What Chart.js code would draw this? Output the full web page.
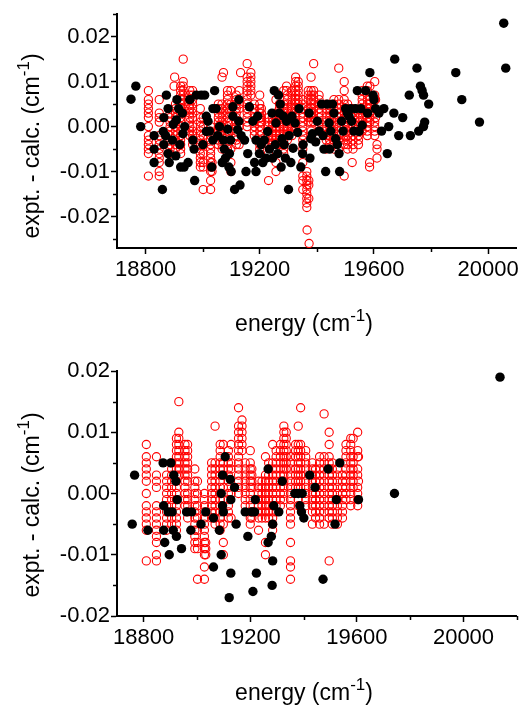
<!DOCTYPE html>
<html><head><meta charset="utf-8">
<script src="https://cdn.jsdelivr.net/npm/chart.js@4.4.0/dist/chart.umd.min.js"></script>
<style>
html,body{margin:0;padding:0;background:#fff;}
#wrap{position:relative;width:522px;height:709px;overflow:hidden;}
canvas{position:absolute;left:0;}
#c1{top:0;} #c2{top:350px;}
</style></head><body>
<div id="wrap"><canvas id="c1" width="522" height="350"></canvas><canvas id="c2" width="522" height="359"></canvas></div>
<script>
// ---------- DATA (energies in cm^-1, residuals in units of 10^-3 cm^-1) ----------
const xTicksTop = [18800,19000,19200,19400,19600,19800,20000];
const xTicksBottom = [18800,19000,19200,19400,19600,19800,20000,20200];
const xLabelValues = [18800,19200,19600,20000];
const yTicksTop = [-25,-20,-15,-10,-5,0,5,10,15,20,25];
const yTicksBottom = [-20,-15,-10,-5,0,5,10,15,20];
const yLabelValues = [-20,-10,0,10,20];

// Top panel, filled (black) points
const blackTopE = [18749,18766,18783,18830,18830,18830,18859,18862,18873,18879,18864,18864,18870,18879,18883,18894,18897,18908,18910,18916,18923,18929,18931,18937,18949,18955,18920,18906,18935,18972,18966,18978,18970,18995,19007,19001,19013,19019,19013,19024,19032,19036,19042,19036,19047,19059,19053,19069,19073,19076,19080,19088,19092,19094,19098,19100,19106,19106,19112,19127,19127,19131,19123,19135,19147,19152,19158,19164,19176,19182,19187,19187,19193,19199,19205,19211,19216,19222,19228,19234,19243,19245,19251,19255,19257,19263,19266,19269,19272,19275,19278,19283,19286,19290,19294,19301,19303,19309,19313,19317,19324,19333,19338,19344,19350,19352,19373,19376,19379,19385,19396,19402,19408,19417,19422,19425,19431,19437,19443,19445,19449,19455,19460,19466,19472,19478,19480,19487,19492,19501,19507,19513,19519,19522,19530,19536,19542,19548,19554,19559,19571,19578,19586,19597,19600,19606,19618,19627,19635,19647,19652,19670,19673,19687,19701,19724,19728,19751,19757,19763,19769,19774,19778,19774,19792,19887,19908,19970,20055,20062];
const blackTopV = [6.1,9,0,-2,-5,-8,-14,-1.1,7,4,2,-4,-2,-6,-8,-3,0.5,1.5,6,4,-9,3,-1.6,0,-8,6,-4,-6.5,-9,-12,-3,7,-5,7,7,-4,2.3,1.2,-1.1,-1,-9,-3,8,4,4,0,-2,-8,-3,-5,-7,-0.6,-9,-6,-3,-10,2.3,4.4,-14,6,1.2,-13,-0.7,-2,-3,-10,-6,4.4,1.2,-8,-10,-3,2.3,-6,-4,-8,-3,-7,-1.1,-5,3,-7,8,-4,0.8,-6,7,3,5,-9,-2.7,2.3,-4,-7,1.2,-14,-2,-8,2.3,-4.8,0.8,-1.3,4,-9,-6,-4,3,-7,-2.7,-1.6,-3.4,1.2,-1,5,-2,-5,-10,5,0.8,-5,-1,5,3,-2.7,-4,-6,-10,1.2,-1,4,3,2.3,4,1.2,-1,4,8,-1.1,4,0.3,8,3,12,7,6,4,3,-1,4,-6,0,3,15,-2,2,7,-2,13,-1,9,8,7,1,0,5,12,6,1,23,13];

// Bottom panel, filled (black) points
const blackBottomE = [18757,18766,18816,18873,18902,18875,18892,18875,18879,18896,18913,18921,18926,18907,18911,18923,18942,18961,18980,18977,19015,19033,19062,19062,19084,19091,19096,19096,19099,19091,19106,19125,19127,19127,19121,19141,19147,19181,19191,19206,19219,19216,19210,19223,19267,19267,19279,19288,19284,19284,19282,19307,19320,19367,19380,19395,19386,19392,19401,19423,19443,19473,19492,19523,19518,19536,19606,19741,20137];
const blackBottomV = [-5,3,-6,5,5,-2,-3,-6,-8,-10,3,2,-1,-3,-6,-7,-9,-3,-3,-6,-5,-3,-4,-12,-6,0,3,-2,-3,-10,6,2.3,-1,-13,-17,1,-5,-3,-7,-3,-1,-3,-16,-13,4,-8,-7,-2,-5,-11,-15,-3,2,0,0,0,-2,-3,-4,3,1,-14,4,-1,-5,5,-1,0,19];

// Open (red) points: transition energies and the residuals stacked at each energy
const redColE = [18810,18848,18886,18905,18923,18932,18955,18965,18992,19002,19028,19033,19055,19068,19087,19099,19118,19128,19156,19169,19181,19200,19206,19231,19244,19257,19269,19284,19297,19313,19326,19335,19351,19370,19380,19389,19408,19433,19445,19460,19477,19496,19508,19527,19546,19559,19577,19586,19603,19606];
const redColV = [
 [8,6,5,4,3,2,0,-2,-3,-4,-5,-6,-11],
 [6,3,2,1,-2,-3,-4,-5,-6,-7,-8,-10,-11],
 [3,2,1,0,-1,-2,-3,-4,-5,-6],
 [5,4,3,2,1,0,-1,-2,-3,-4,-5],
 [9,8,7,6,5,4,3,2,1,0,-1,-2,-3,-4,-5,-6],
 [15,10,9,8,7,6,5,4,3],
 [8,7,6,5,4,3,2,1,0,-1,-2],
 [8,7,6,5,4,3,2,0,-1,-2,-3,-4],
 [4,2,1,0,-1,-2,-3,-4,-5,-6,-7,-8,-9],
 [2,0,-2,-4,-6,-8,-9,-14],
 [0,-1,-2,-3,-4,-5,-6,-7,-8,-9,-10,-12,-14],
 [-8,-9,-10],
 [5,4,3,2,1,0,-1,-2,-3,-4],
 [11,5,4,3,2,1,0,-1,-2,-3,-4,-5],
 [8,7,6,5,4,3,2,1,0,-1,-2,-3,-4,-5,-6],
 [8,5,4,3,1,-1,-5,-8,-10],
 [7,6,5,4,3,2,1,0,-1,-2,-3,-4],
 [8,5,4,0,-4],
 [14,11,10,9,8,7,6,5,4,3,2,1,0],
 [12,11,10,9,8,7],
 [5,4,3,2,1,0,-1,-2],
 [7,5,4,3,2,1,0,-1,-2,-3,-4,-5],
 [4,3,2,1,-3,-4],
 [2,1,0,-1,-2,-3,-4,-6],
 [2,1,0,-1,-2,-3,-4],
 [6,3,2,1,0,-1,-2,-3,-4,-8,-10],
 [5,4,3,2,1,0,-1,-2,-3,-4],
 [8,5,4,3,2,1,0,-1,-2,-3,-4,-5,-6],
 [7,6,5,4,3,2,1,0,-1,-2,-3],
 [8,7,6,5,4,3,2,1,0,-1,-2],
 [11,10,9,8,7,6,5,4,3,2,1,0,-1],
 [10,9,8,7,6,5,4],
 [6,5,4,3,2,1,0,-1,-2,-3,-4,-5,-8,-11,-12,-14],
 [8,7,6,4,3,2,1],
 [11,8,7,6,5,4,3,2,1,-1,-2],
 [14,8,7,6,5,4,3,2,1],
 [7,6,5,4,3,2,1,0,-1,-2],
 [5,4,3,2,1,0,-1,-2,-3,-5],
 [4,3,2,1,0,-1,-2,-3,-4],
 [6,5,4,3,2,1,0,-1,-2,-3,-4,-5],
 [13,6,5,4,3,2,1,0,-1,-2,-3,-5],
 [10,8,6,5,4,3,2,1,0,-1,-2,-3,-4,-11],
 [5,4,3,2,1,0,-1,-2,-3,-4,-5],
 [4,3,2,1,0,-1,-2,-3,-4,-5],
 [3,2,1,0,-1,-2,-3,-4],
 [8,7,6,5,4,3,2,1,0,-1],
 [9,8,7,6,5,4,3,2,1,0,-1,-2],
 [9,6,5,4,3,2,1],
 [10,7,6,4,3,1,0,-1,-2],
 [6,2]
];
// Extra open points seen only in the top panel
const redTopExtraE = [18902,18900,19073,19133,19231,19294,19294,19365,19365,19365,19365,19365,19365,19365,19365,19365,19366,19372,19372,19372,19373,19524,19585,19585,19611,19611,19611];
const redTopExtraV = [11,9,12,12,-12,9,8,-10,-11,-12,-13,-14,-15,-16,-17,-18,-23,-12,-13,-16,-26,-8,-9,-8,-7,-5,-4];

// ---------- build point tables ----------
function pairs(E, V){ return E.map((e,i)=>({x:e, y:V[i]})); }
function colPoints(E, cols){ const out=[]; E.forEach((e,i)=>cols[i].forEach(v=>out.push({x:e,y:v}))); return out; }
const redBottomPts = colPoints(redColE, redColV);
const redTopPts = colPoints(redColE, redColV).concat(pairs(redTopExtraE, redTopExtraV));

const FONT = '"Liberation Sans", Arial, Helvetica, sans-serif';
const isIn = (arr, v) => arr.some(a => Math.abs(a - v) < 1e-6);

function axisTitlesPlugin(cfg){
  return {
    id: 'axisTitles',
    afterDraw(chart){
      const ctx = chart.ctx;
      ctx.save();
      ctx.fillStyle = '#000';
      ctx.textBaseline = 'alphabetic';
      const main = '23px ' + FONT, sup = '17px ' + FONT;
      function drawSup(t1, t2, t3, cx, base){
        ctx.font = main; const w1 = ctx.measureText(t1).width, w3 = ctx.measureText(t3).width;
        ctx.font = sup; const w2 = ctx.measureText(t2).width;
        let x = cx - (w1 + w2 + w3) / 2;
        ctx.textAlign = 'left';
        ctx.font = main; ctx.fillText(t1, x, base); x += w1;
        ctx.font = sup; ctx.fillText(t2, x, base - 10); x += w2;
        ctx.font = main; ctx.fillText(t3, x, base);
      }
      // x title
      drawSup('energy (cm', '-1', ')', cfg.xcx, cfg.xbase);
      // y title (rotated)
      ctx.save();
      ctx.translate(cfg.ybase, cfg.ycy);
      ctx.rotate(-Math.PI / 2);
      drawSup('expt. - calc. (cm', '-1', ')', 0, 0);
      ctx.restore();
      // minor tick marks
      ctx.strokeStyle = '#000'; ctx.lineWidth = 1.5;
      const xs = chart.scales.x, ys = chart.scales.y;
      xs.ticks.forEach(t => {
        if (!isIn(xLabelValues, t.value)) {
          const px = Math.round(xs.getPixelForValue(t.value)) + 0.5;
          ctx.beginPath(); ctx.moveTo(px, xs.top); ctx.lineTo(px, xs.top + 4); ctx.stroke();
        }
      });
      ys.ticks.forEach(t => {
        if (!isIn(yLabelValues, t.value)) {
          const py = Math.round(ys.getPixelForValue(t.value)) + 0.5;
          ctx.beginPath(); ctx.moveTo(ys.right, py); ctx.lineTo(ys.right - 4, py); ctx.stroke();
        }
      });
      ctx.restore();
    }
  };
}

function makeChart(id, opt){
  return new Chart(document.getElementById(id), {
    type: 'scatter',
    data: { datasets: [
      { label: 'filled', data: opt.black, pointStyle: 'circle', pointRadius: 4.7, pointBorderWidth: 0,
        backgroundColor: '#000', borderColor: '#000' },
      { label: 'open', data: opt.red, pointStyle: 'circle', pointRadius: 4.1, pointBorderWidth: 1.1,
        backgroundColor: 'rgba(0,0,0,0)', borderColor: '#ff0000' }
    ]},
    options: {
      responsive: false, animation: false, events: [],
      layout: { padding: { top: opt.padTop, right: 4, left: 0, bottom: 0 } },
      plugins: { legend: { display: false }, tooltip: { enabled: false } },
      scales: {
        x: {
          type: 'linear', min: 18700, max: opt.xmax,
          afterBuildTicks: s => { s.ticks = opt.xticks.map(v => ({ value: v })); },
          afterFit: s => { s.height = opt.xHeight; },
          grid: { display: true, drawOnChartArea: false, drawTicks: true, tickLength: 6, tickWidth: 1.5,
                  tickColor: c => isIn(xLabelValues, c.tick.value) ? '#000' : 'rgba(0,0,0,0)' },
          border: { display: true, color: '#000', width: 2 },
          ticks: { color: '#000', font: { family: FONT, size: 22 }, padding: 3, maxRotation: 0, autoSkip: false,
                   callback: v => isIn(xLabelValues, v) ? String(v) : '' }
        },
        y: {
          type: 'linear', min: opt.ymin, max: opt.ymax,
          afterBuildTicks: s => { s.ticks = opt.yticks.map(v => ({ value: v })); },
          afterFit: s => { s.width = 117; },
          grid: { display: true, drawOnChartArea: false, drawTicks: true, tickLength: 6, tickWidth: 1.5,
                  tickColor: c => isIn(yLabelValues, c.tick.value) ? '#000' : 'rgba(0,0,0,0)' },
          border: { display: true, color: '#000', width: 2 },
          ticks: { color: '#000', font: { family: FONT, size: 22 }, padding: 1, autoSkip: false,
                   callback: v => isIn(yLabelValues, v) ? (v / 1000).toFixed(2) : '' }
        }
      }
    },
    plugins: [axisTitlesPlugin(opt.titles)]
  });
}

makeChart('c1', {
  black: pairs(blackTopE, blackTopV), red: redTopPts,
  xmax: 20100, ymin: -27, ymax: 25, xticks: xTicksTop, yticks: yTicksTop,
  padTop: 3, xHeight: 102,
  titles: { xcx: 304, xbase: 331, ybase: 39, ycy: 146 }
});
makeChart('c2', {
  black: pairs(blackBottomE, blackBottomV), red: redBottomPts,
  xmax: 20200, ymin: -20, ymax: 20, xticks: xTicksBottom, yticks: yTicksBottom,
  padTop: 21, xHeight: 93,
  titles: { xcx: 304, xbase: 350, ybase: 39, ycy: 155 }
});
</script>
</body></html>
